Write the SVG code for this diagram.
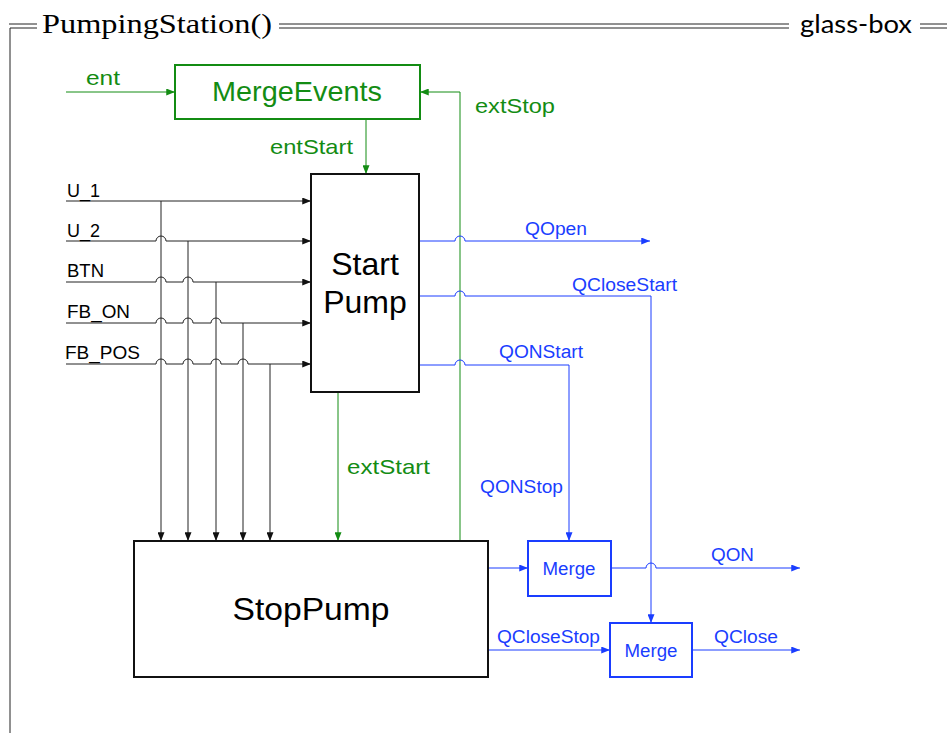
<svg xmlns="http://www.w3.org/2000/svg" width="947" height="733" viewBox="0 0 947 733">
<style>
.frame{stroke:#222;stroke-width:1;fill:none}
.blk{stroke:#222;stroke-width:1;fill:none}
.grn{stroke:#138c13;stroke-width:1;fill:none}
.blu{stroke:#1a3dff;stroke-width:1;fill:none}
.boxk{stroke:#111;stroke-width:2;fill:#fff}
.boxg{stroke:#138c13;stroke-width:2;fill:#fff}
.boxb{stroke:#1a3dff;stroke-width:2;fill:#fff}
text{font-family:"Liberation Sans",Arial,sans-serif}
text.serif{font-family:"Liberation Serif","DejaVu Serif",serif}
text.lato{font-family:Lato,"Noto Sans",sans-serif}
.tk{fill:#000;font-size:19px}
.tg{fill:#138c13;font-size:21px}
.tb{fill:#1a3dff;font-size:18px}
.big{font-size:32px;fill:#000;text-anchor:middle}
</style>
<defs>
<marker id="ak" viewBox="0 0 10 8" markerWidth="10" markerHeight="7" refX="10" refY="4" orient="auto" markerUnits="userSpaceOnUse"><path d="M0,0 L10,4 L0,8 z" fill="#111"/></marker>
<marker id="ag" viewBox="0 0 10 8" markerWidth="10" markerHeight="7" refX="10" refY="4" orient="auto" markerUnits="userSpaceOnUse"><path d="M0,0 L10,4 L0,8 z" fill="#138c13"/></marker>
<marker id="ab" viewBox="0 0 10 8" markerWidth="10" markerHeight="7" refX="10" refY="4" orient="auto" markerUnits="userSpaceOnUse"><path d="M0,0 L10,4 L0,8 z" fill="#1a3dff"/></marker>
</defs>

<g id="frame">
<path class="frame" d="M9 24 H37 M10 28 H37 M10 28 V733 M279 24 H789 M279 28 H789 M920 24 H947 M920 28 H947"/>
<text class="serif" x="42" y="33" font-size="27" textLength="230" lengthAdjust="spacingAndGlyphs" fill="#000">PumpingStation()</text>
<text class="lato" x="800" y="33" font-size="25" textLength="112" lengthAdjust="spacingAndGlyphs" fill="#000">glass-box</text>
</g>

<g id="connectors">
<path class="blk" marker-end="url(#ak)" d="M66 201 H311"/>
<path class="blk" marker-end="url(#ak)" d="M66 241 H156 A5 5 0 0 1 166 241 H311"/>
<path class="blk" marker-end="url(#ak)" d="M66 282 H156 A5 5 0 0 1 166 282 H183 A5 5 0 0 1 193 282 H311"/>
<path class="blk" marker-end="url(#ak)" d="M66 323 H156 A5 5 0 0 1 166 323 H183 A5 5 0 0 1 193 323 H211 A5 5 0 0 1 221 323 H311"/>
<path class="blk" marker-end="url(#ak)" d="M66 364 H156 A5 5 0 0 1 166 364 H183 A5 5 0 0 1 193 364 H211 A5 5 0 0 1 221 364 H238 A5 5 0 0 1 248 364 H311"/>
<path class="blk" marker-end="url(#ak)" d="M161 201 V541"/>
<path class="blk" marker-end="url(#ak)" d="M188 241 V541"/>
<path class="blk" marker-end="url(#ak)" d="M216 282 V541"/>
<path class="blk" marker-end="url(#ak)" d="M243 323 V541"/>
<path class="blk" marker-end="url(#ak)" d="M270 364 V541"/>
<path class="grn" marker-end="url(#ag)" d="M66 92 H175"/>
<path class="grn" marker-end="url(#ag)" d="M366 120 V174"/>
<path class="grn" marker-end="url(#ag)" d="M460 541 V92 H420"/>
<path class="grn" marker-end="url(#ag)" d="M338 392 V541"/>
<path class="blu" marker-end="url(#ab)" d="M420 241 H455 A5 5 0 0 1 465 241 H650"/>
<path class="blu" marker-end="url(#ab)" d="M420 296 H455 A5 5 0 0 1 465 296 H651 V623"/>
<path class="blu" marker-end="url(#ab)" d="M420 365 H455 A5 5 0 0 1 465 365 H569 V541"/>
<path class="blu" marker-end="url(#ab)" d="M488 568 H528"/>
<path class="blu" marker-end="url(#ab)" d="M488 650 H610"/>
<path class="blu" marker-end="url(#ab)" d="M611 568 H646 A5 5 0 0 1 656 568 H800"/>
<path class="blu" marker-end="url(#ab)" d="M692 650 H800"/>
<text class="tg" x="86" y="85" textLength="34" lengthAdjust="spacingAndGlyphs">ent</text>
<text class="tg" x="270" y="154" textLength="83" lengthAdjust="spacingAndGlyphs">entStart</text>
<text class="tg" x="475" y="113" textLength="80" lengthAdjust="spacingAndGlyphs">extStop</text>
<text class="tg" x="347" y="474" textLength="83" lengthAdjust="spacingAndGlyphs">extStart</text>
<text class="tk" x="67" y="197" textLength="33" lengthAdjust="spacingAndGlyphs">U_1</text>
<text class="tk" x="67" y="237" textLength="33" lengthAdjust="spacingAndGlyphs">U_2</text>
<text class="tk" x="67" y="277" textLength="37" lengthAdjust="spacingAndGlyphs">BTN</text>
<text class="tk" x="67" y="318" textLength="63" lengthAdjust="spacingAndGlyphs">FB_ON</text>
<text class="tk" x="65" y="359" textLength="75" lengthAdjust="spacingAndGlyphs">FB_POS</text>
<text class="tb" x="525" y="235" textLength="62" lengthAdjust="spacingAndGlyphs">QOpen</text>
<text class="tb" x="572" y="291" textLength="105" lengthAdjust="spacingAndGlyphs">QCloseStart</text>
<text class="tb" x="499" y="358" textLength="84" lengthAdjust="spacingAndGlyphs">QONStart</text>
<text class="tb" x="480" y="493" textLength="83" lengthAdjust="spacingAndGlyphs">QONStop</text>
<text class="tb" x="711" y="561" textLength="43" lengthAdjust="spacingAndGlyphs">QON</text>
<text class="tb" x="497" y="643" textLength="103" lengthAdjust="spacingAndGlyphs">QCloseStop</text>
<text class="tb" x="714" y="643" textLength="64" lengthAdjust="spacingAndGlyphs">QClose</text>
</g>

<g id="MergeEvents">
<rect class="boxg" x="175" y="65" width="245" height="54"/>
<text x="297" y="101" font-size="28" fill="#138c13" text-anchor="middle" textLength="170" lengthAdjust="spacingAndGlyphs">MergeEvents</text>
</g>

<g id="StartPump">
<rect class="boxk" x="311" y="174" width="108" height="218"/>
<text class="big" x="365" y="275">Start</text>
<text class="big" x="365" y="313">Pump</text>
</g>

<g id="StopPump">
<rect class="boxk" x="134" y="541" width="354" height="136"/>
<text class="big" x="311" y="620" textLength="157" lengthAdjust="spacingAndGlyphs">StopPump</text>
</g>

<g id="Merge1">
<rect class="boxb" x="528" y="541" width="83" height="55"/>
<text class="tb" x="569" y="575" text-anchor="middle" textLength="53" lengthAdjust="spacingAndGlyphs">Merge</text>
</g>

<g id="Merge2">
<rect class="boxb" x="610" y="623" width="82" height="54"/>
<text class="tb" x="651" y="657" text-anchor="middle" textLength="53" lengthAdjust="spacingAndGlyphs">Merge</text>
</g>
</svg>
